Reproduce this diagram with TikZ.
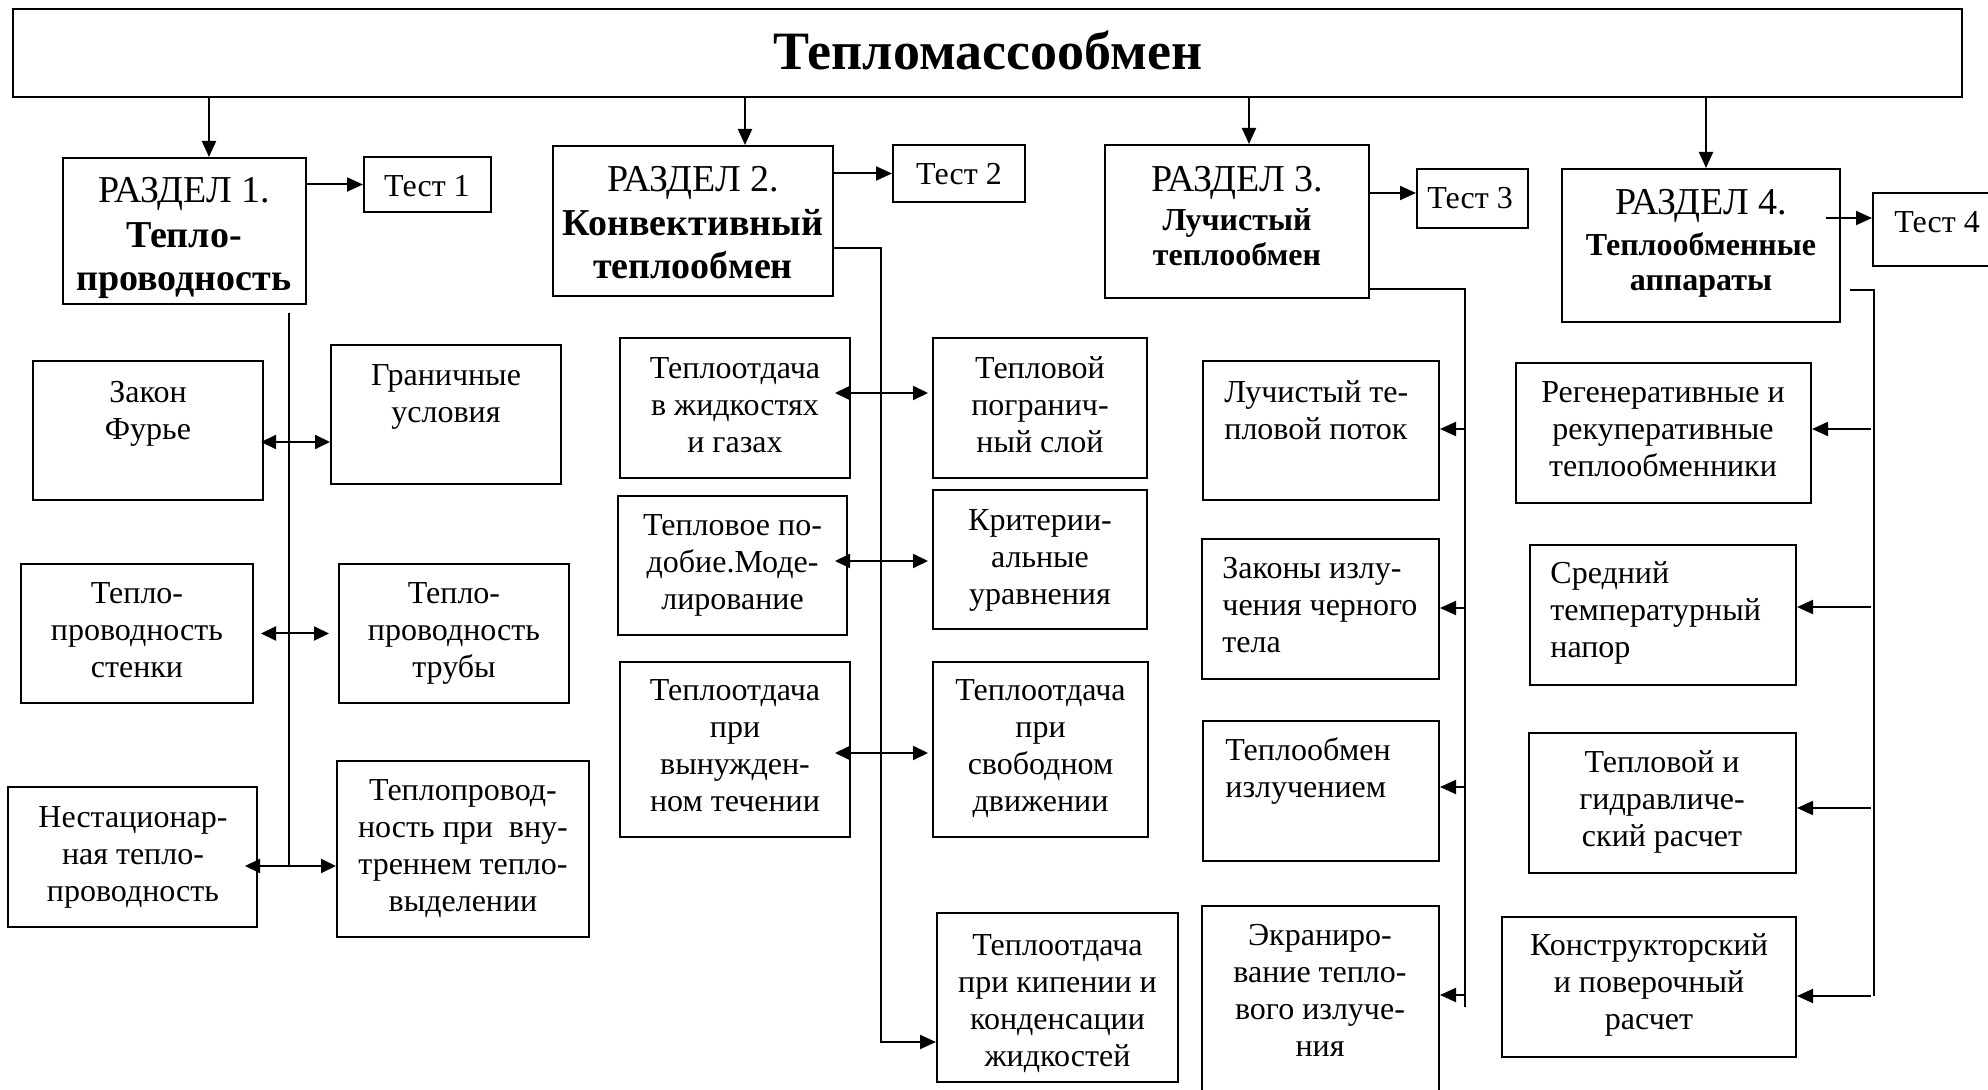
\documentclass[tikz,border=0pt]{standalone}
\usepackage{fontspec}
\setmainfont{Liberation Serif}
\usetikzlibrary{arrows.meta,fit,calc}
\newcommand\myup{\rule{0pt}{0.8em}}
\begin{document}
\begin{tikzpicture}[x=0.5pt,y=-0.5pt,
  bx/.style={draw, line width=1pt, inner sep=0pt},
  ln/.style={line width=1pt},
  arr/.style={line width=1pt, -{Triangle[length=8pt,width=7pt]}},
  darr/.style={line width=1pt, {Triangle[length=7.5pt,width=7pt]}-{Triangle[length=7.5pt,width=7pt]}},
  hd/.style={font=\fontsize{19pt}{21.5pt}\selectfont, anchor=base, inner sep=0pt},
  sbA/.style={font=\fontsize{19pt}{21.5pt}\selectfont\bfseries, align=center, anchor=north, inner sep=0pt},
  sbB/.style={font=\fontsize{16pt}{17.5pt}\selectfont\bfseries, align=center, anchor=north, inner sep=0pt},
  tst/.style={font=\fontsize{16pt}{18pt}\selectfont, anchor=base, inner sep=0pt},
  tx/.style={font=\fontsize{16pt}{18.5pt}\selectfont, align=center, anchor=north, inner sep=0pt},
  txl/.style={font=\fontsize{16pt}{18.5pt}\selectfont, align=left, anchor=north west, inner sep=0pt}]
\useasboundingbox (0,0) rectangle (1988,1090);

% ---------- top and section boxes
\node[bx, fit={(13,9) (1962,97)}] (top) {};
\node[font=\fontsize{27pt}{32pt}\selectfont\bfseries, anchor=base, inner sep=0pt] (title) at (988,70) {Тепломассообмен};

\node[bx, fit={(63,158) (306,304)}] (r1) {};
\node[bx, fit={(364,157) (491,212)}] (t1) {};
\node[bx, fit={(553,146) (833,296)}] (r2) {};
\node[bx, fit={(893,145) (1025,202)}] (t2) {};
\node[bx, fit={(1105,145) (1369,298)}] (r3) {};
\node[bx, fit={(1417,169) (1528,228)}] (t3) {};
\node[bx, fit={(1562,169) (1840,322)}] (r4) {};
\node[bx, fit={(1873,193) (1995,266)}] (t4) {};

\node[hd] (h1) at (184,203) {РАЗДЕЛ 1.};
\node[sbA] (n1) at (184,216.6) {\myup Тепло-\\проводность};
\node[hd] (h2) at (693,192) {РАЗДЕЛ 2.};
\node[sbA] (n2) at (693,204.6) {\myup Конвективный\\теплообмен};
\node[hd] (h3) at (1237,192) {РАЗДЕЛ 3.};
\node[sbB] (n3) at (1237,204.4) {\myup Лучистый\\теплообмен};
\node[hd] (h4) at (1701,215) {РАЗДЕЛ 4.};
\node[sbB] (n4) at (1701,229.4) {\myup Теплообменные\\аппараты};

\node[tst] (tl1) at (427,197) {Тест 1};
\node[tst] (tl2) at (959,185) {Тест 2};
\node[tst] (tl3) at (1470,209) {Тест 3};
\node[tst] (tl4) at (1937,233) {Тест 4};

% ---------- column 1
\node[bx, fit={(33,361) (263,500)}] (zf) {};
\node[bx, fit={(331,345) (561,484)}] (gu) {};
\node[bx, fit={(21,564) (253,703)}] (st) {};
\node[bx, fit={(339,564) (569,703)}] (tb) {};
\node[bx, fit={(8,787) (257,927)}] (ns) {};
\node[bx, fit={(337,761) (589,937)}] (vn) {};
\node[tx] (xzf) at (148,376.4) {\myup Закон\\Фурье};
\node[tx] (xgu) at (446,359.4) {\myup Граничные\\условия};
\node[tx] (xst) at (137,577.4) {\myup Тепло-\\проводность\\стенки};
\node[tx] (xtb) at (454,577.4) {\myup Тепло-\\проводность\\трубы};
\node[tx] (xns) at (133,801.4) {\myup Нестационар-\\ная тепло-\\проводность};
\node[tx] (xvn) at (463,774.4) {\myup Теплопровод-\\ность при \ вну-\\треннем тепло-\\выделении};

% ---------- column 2
\node[bx, fit={(620,338) (850,478)}] (zh) {};
\node[bx, fit={(933,338) (1147,478)}] (pg) {};
\node[bx, fit={(618,496) (847,635)}] (pm) {};
\node[bx, fit={(933,490) (1147,629)}] (kr) {};
\node[bx, fit={(620,662) (850,837)}] (vt) {};
\node[bx, fit={(933,662) (1148,837)}] (sd) {};
\node[bx, fit={(937,913) (1178,1082)}] (kp) {};
\node[tx] (xzh) at (735,352.4) {\myup Теплоотдача\\в жидкостях\\и газах};
\node[tx] (xpg) at (1040,352.4) {\myup Тепловой\\погранич-\\ный слой};
\node[tx] (xpm) at (732.5,509.4) {\myup Тепловое по-\\добие.Моде-\\лирование};
\node[tx] (xkr) at (1040,504.4) {\myup Критерии-\\альные\\уравнения};
\node[tx] (xvt) at (735,674.4) {\myup Теплоотдача\\при\\вынужден-\\ном течении};
\node[tx] (xsd) at (1040.5,674.4) {\myup Теплоотдача\\при\\свободном\\движении};
\node[tx] (xkp) at (1057.5,929.4) {\myup Теплоотдача\\при кипении и\\конденсации\\жидкостей};

% ---------- column 3
\node[bx, fit={(1203,361) (1439,500)}] (lp) {};
\node[bx, fit={(1202,539) (1439,679)}] (zi) {};
\node[bx, fit={(1203,721) (1439,861)}] (ti) {};
\node[bx, fit={(1202,906) (1439,1095)}] (ek) {};
\node[txl] (xlp) at (1224,376.4) {\myup Лучистый те-\\пловой поток};
\node[txl] (xzi) at (1222,552.4) {\myup Законы излу-\\чения черного\\тела};
\node[txl] (xti) at (1225,734.4) {\myup Теплообмен\\излучением};
\node[tx] (xek) at (1320,919.4) {\myup Экраниро-\\вание тепло-\\вого излуче-\\ния};

% ---------- column 4
\node[bx, fit={(1516,363) (1811,503)}] (rg) {};
\node[bx, fit={(1530,545) (1796,685)}] (sr) {};
\node[bx, fit={(1529,733) (1796,873)}] (tg) {};
\node[bx, fit={(1502,917) (1796,1057)}] (ks) {};
\node[tx] (xrg) at (1663,376.4) {\myup Регенеративные и\\рекуперативные\\теплообменники};
\node[txl] (xsr) at (1550,557.4) {\myup Средний\\температурный\\напор};
\node[tx] (xtg) at (1662,746.4) {\myup Тепловой и\\гидравличе-\\ский расчет};
\node[tx] (xks) at (1649,929.4) {\myup Конструкторский\\и поверочный\\расчет};

% ---------- connectors: top to sections
\coordinate (a1) at (209,0);
\coordinate (a2) at (745,0);
\coordinate (a3) at (1249,0);
\coordinate (a4) at (1706,0);
\draw[arr] (top.south -| a1) -- (r1.north -| a1);
\draw[arr] (top.south -| a2) -- (r2.north -| a2);
\draw[arr] (top.south -| a3) -- (r3.north -| a3);
\draw[arr] (top.south -| a4) -- (r4.north -| a4);

% sections to tests
\draw[arr] (r1.east |- t1.west) -- (t1.west);
\draw[arr] (r2.east |- t2.west) -- (t2.west);
\coordinate (b3) at (0,193);
\draw[arr] (r3.east |- b3) -- (t3.west |- b3);
\coordinate (b4) at (1826,218);
\draw[arr] (b4) -- (t4.west |- b4);

% column 1 spine
\coordinate (s1t) at (289,313);
\coordinate (s1b) at (289,866);
\draw[ln] (s1t) -- (s1b);
\coordinate (c1) at (289,442);
\draw[darr] ($(zf.east |- c1)+(-3,0)$) -- (gu.west |- c1);
\draw[darr, shorten <=3.5pt, shorten >=4.5pt] (st.east) -- (tb.west);
\draw[darr] ($(ns.east |- s1b)+(-13,0)$) -- (vn.west |- s1b);

% column 2 spine
\coordinate (s2t) at (881,248);
\coordinate (s2b) at (881,1042);
\draw[arr] (r2.east |- s2t) -- (s2t) -- (s2b) -- (kp.west |- s2b);
\coordinate (c4) at (881,393);
\coordinate (c5) at (881,561);
\coordinate (c6) at (881,753);
\draw[darr, shorten >=2pt] ($(zh.east |- c4)+(-16,0)$) -- (pg.west |- c4);
\draw[darr, shorten >=2pt] ($(pm.east |- c5)+(-13,0)$) -- (kr.west |- c5);
\draw[darr, shorten >=2pt] ($(vt.east |- c6)+(-16,0)$) -- (sd.west |- c6);

% column 3 spine
\coordinate (s3t) at (1465,289);
\coordinate (s3b) at (1465,1007);
\draw[ln] (r3.east |- s3t) -- (s3t) -- (s3b);
\coordinate (d1) at (1465,429);
\coordinate (d2) at (1465,608);
\coordinate (d3) at (1465,787);
\coordinate (d4) at (1465,995);
\draw[arr] (d1) -- (lp.east |- d1);
\draw[arr] (d2) -- (zi.east |- d2);
\draw[arr] (d3) -- (ti.east |- d3);
\draw[arr] (d4) -- (ek.east |- d4);

% column 4 spine
\coordinate (s4t) at (1874,290);
\coordinate (s4b) at (1874,996);
\draw[ln] ($(r4.east |- s4t)+(9,0)$) -- (s4t) -- (s4b);
\coordinate (e1) at (1871,429);
\coordinate (e2) at (1871,607);
\coordinate (e3) at (1871,808);
\coordinate (e4) at (1871,996);
\draw[arr] (e1) -- (rg.east |- e1);
\draw[arr] (e2) -- (sr.east |- e2);
\draw[arr] (e3) -- (tg.east |- e3);
\draw[arr] (e4) -- (ks.east |- e4);
\end{tikzpicture}
\end{document}
